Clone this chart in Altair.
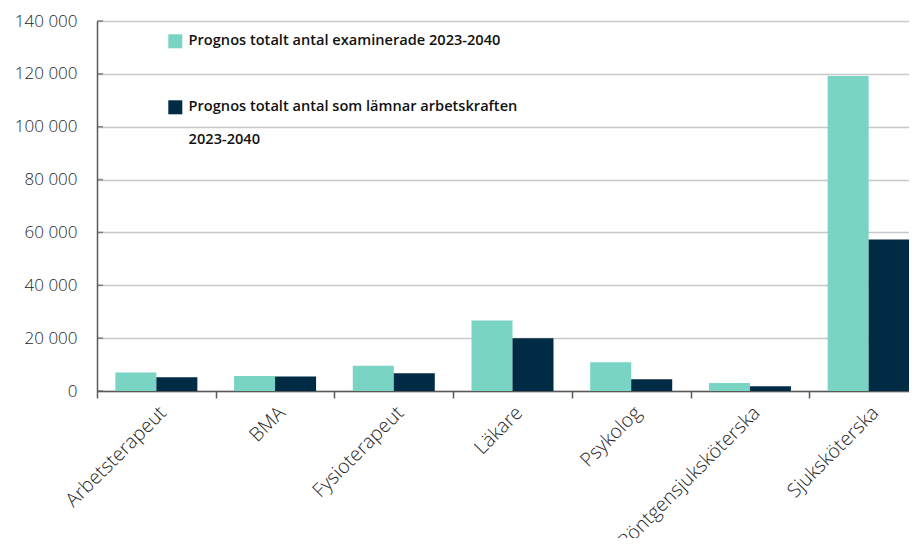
import altair as alt
import pandas as pd

categories = ["Arbetsterapeut", "BMA", "Fysioterapeut", "Läkare", "Psykolog",
              "Röntgensjuksköterska", "Sjuksköterska"]
examinerade = [7000, 5700, 9600, 26700, 10900, 3000, 119200]
lamnar = [5200, 5500, 6700, 20000, 4400, 1800, 57300]
series_names = ["Prognos totalt antal examinerade 2023-2040",
                "Prognos totalt antal som lämnar arbetskraften 2023-2040"]
series_colors = ["#79D4C4", "#002B45"]
y_ticks = [0, 20000, 40000, 60000, 80000, 100000, 120000, 140000]

rows = []
for c, a, b in zip(categories, examinerade, lamnar):
    rows.append({"kategori": c, "serie": series_names[0], "varde": a})
    rows.append({"kategori": c, "serie": series_names[1], "varde": b})
df = pd.DataFrame(rows)
ticks_df = pd.DataFrame({"v": y_ticks})

AX = "#595959"
FONT = "Open Sans"

y_enc = alt.Y(
    "varde:Q",
    scale=alt.Scale(domain=[0, 140000], nice=False),
    axis=alt.Axis(
        title=None, values=y_ticks, grid=True, gridColor="#C8C8C8", gridWidth=1.5,
        domainColor=AX, domainWidth=1.5, ticks=False, labelPadding=20,
        labelFont=FONT, labelFontSize=17, labelFontWeight=300, labelColor="#262626",
        labelExpr="replace(format(datum.value, ','), ',', ' ')",
    ),
)

label_expr = (
    "length(datum.label) > 45 ? "
    "[slice(datum.label, 0, lastindexof(datum.label, ' ')), '\u200b', "
    "slice(datum.label, lastindexof(datum.label, ' ') + 1)] : datum.label"
)

bars = alt.Chart(df).mark_bar().encode(
    x=alt.X(
        "kategori:N", sort=categories,
        scale=alt.Scale(paddingInner=0, paddingOuter=0, range=[0, 831]),
        axis=alt.Axis(
            title=None, labelAngle=-45, tickBand="extent", grid=False,
            domainColor=AX, domainWidth=1.5, tickColor=AX, tickWidth=1.5, tickSize=7,
            labelPadding=5, labelFont=FONT, labelFontSize=19.5, labelFontWeight=300,
            labelColor="#262626", labelAlign="right", labelBaseline="top",
            labelLimit=400,
        ),
    ),
    xOffset=alt.XOffset("serie:N", sort=series_names,
                        scale=alt.Scale(paddingInner=0, paddingOuter=0.4476)),
    y=y_enc,
    color=alt.Color(
        "serie:N", sort=series_names,
        scale=alt.Scale(domain=series_names, range=series_colors),
        legend=alt.Legend(
            title=None, orient="none", legendX=71, legendY=13, direction="vertical",
            symbolType="square", symbolSize=196, symbolStrokeWidth=0, symbolOpacity=1,
            labelFont=FONT, labelFontSize=14.6, labelFontWeight=600, labelColor="#111111",
            labelLimit=600, labelOffset=6, rowPadding=50, padding=0,
            labelExpr=label_expr,
        ),
    ),
)

inner_ticks = alt.Chart(ticks_df).mark_tick(
    orient="horizontal", size=6, thickness=1.5, color=AX
).encode(y=alt.Y("v:Q"), x=alt.value(3))

chart = alt.layer(bars, inner_ticks).properties(
    width=812, height=370,
    autosize=alt.AutoSizeParams(type="none"),
    padding={"left": 89, "top": 13, "right": 0, "bottom": 147},
).configure_view(stroke=None).configure(background="white")

chart.save("out.html", embed_options={"renderer": "svg", "actions": False})
